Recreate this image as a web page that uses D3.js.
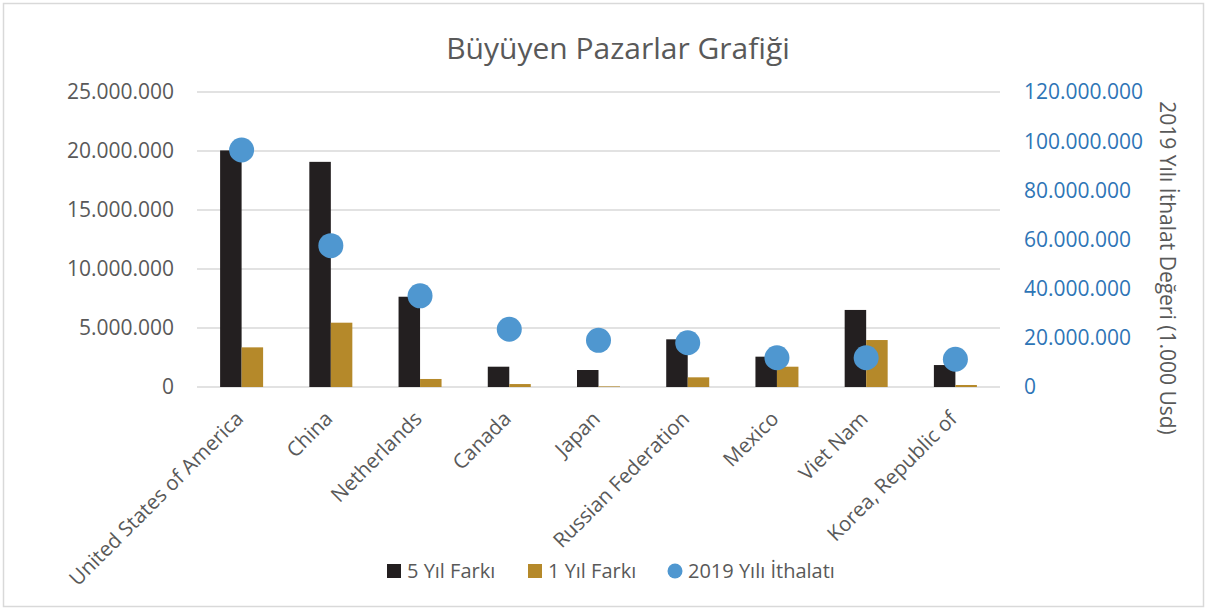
<!DOCTYPE html>
<html>
<head>
<meta charset="utf-8">
<script src="https://cdn.jsdelivr.net/npm/d3@7"></script>
<style>
  body { margin: 0; background: #fff; }
  text { font-family: "Open Sans", Lato, sans-serif; }
</style>
</head>
<body>
<svg width="1208" height="609"></svg>
<script>
const width = 1208;
const height = 609;

const countries = ["United States of America", "China", "Netherlands", "Canada", "Japan",
  "Russian Federation", "Mexico", "Viet Nam", "Korea, Republic of"];
const fiveYear = [20050000, 19080000, 7650000, 1720000, 1440000, 4040000, 2570000, 6530000, 1860000];
const oneYear = [3360000, 5450000, 680000, 250000, 50000, 820000, 1720000, 3980000, 170000];
const imports2019 = [96400000, 57500000, 37100000, 23500000, 19000000, 18000000, 11900000, 11900000, 11300000];
const leftTicks = [0, 5000000, 10000000, 15000000, 20000000, 25000000];
const rightTicks = [0, 20000000, 40000000, 60000000, 80000000, 100000000, 120000000];

const colors = { five: "#231f20", one: "#b5892a", dot: "#4f97d0" };
const grey = "#595959";

const margin = { top: 92, left: 197, right: 1000, bottom: 387 };

const svg = d3.select("svg");

// chart border
svg.append("rect")
  .attr("x", 3.5).attr("y", 3.5)
  .attr("width", width - 8).attr("height", height - 6)
  .attr("fill", "none").attr("stroke", "#d9d9d9").attr("stroke-width", 1.5);

const x = d3.scaleBand().domain(countries).range([margin.left, margin.right]);
const yLeft = d3.scaleLinear().domain([0, 25000000]).range([margin.bottom, margin.top]);
const yRight = d3.scaleLinear().domain([0, 120000000]).range([margin.bottom, margin.top]);

const fmt = v => d3.format(",")(v).replace(/,/g, ".");

// gridlines
svg.append("g").selectAll("line")
  .data(leftTicks)
  .join("line")
  .attr("x1", margin.left).attr("x2", margin.right)
  .attr("y1", d => yLeft(d)).attr("y2", d => yLeft(d))
  .attr("stroke", "#d9d9d9").attr("stroke-width", 1.5);

// left axis labels
svg.append("g").selectAll("text")
  .data(leftTicks)
  .join("text")
  .attr("x", 174).attr("y", d => yLeft(d))
  .attr("dy", "0.35em")
  .attr("text-anchor", "end")
  .attr("fill", grey)
  .style("font-size", "21px")
  .text(d => fmt(d));

// right axis labels
svg.append("g").selectAll("text")
  .data(rightTicks)
  .join("text")
  .attr("x", 1024).attr("y", d => yRight(d))
  .attr("dy", "0.35em")
  .attr("fill", "#2e75b6")
  .style("font-size", "21px")
  .text(d => fmt(d));

// right axis title
svg.append("text")
  .attr("transform", "translate(1160,268) rotate(90)")
  .attr("text-anchor", "middle")
  .attr("fill", grey)
  .style("font-size", "21px")
  .text("2019 Yılı İthalat Değeri (1.000 Usd)");

// bars
const barW = 21.5;
const bars = svg.append("g");
bars.selectAll("rect.five")
  .data(countries)
  .join("rect")
  .attr("class", "five")
  .attr("x", d => x(d) + x.bandwidth() / 2 - barW)
  .attr("width", barW)
  .attr("y", (d, i) => yLeft(fiveYear[i]))
  .attr("height", (d, i) => yLeft(0) - yLeft(fiveYear[i]))
  .attr("fill", colors.five);
bars.selectAll("rect.one")
  .data(countries)
  .join("rect")
  .attr("class", "one")
  .attr("x", d => x(d) + x.bandwidth() / 2)
  .attr("width", barW)
  .attr("y", (d, i) => yLeft(oneYear[i]))
  .attr("height", (d, i) => yLeft(0) - yLeft(oneYear[i]))
  .attr("fill", colors.one);

// dots
svg.append("g").selectAll("circle")
  .data(countries)
  .join("circle")
  .attr("cx", d => x(d) + x.bandwidth() / 2)
  .attr("cy", (d, i) => yRight(imports2019[i]))
  .attr("r", 12.5)
  .attr("fill", colors.dot);

// category labels
svg.append("g").selectAll("text")
  .data(countries)
  .join("text")
  .attr("transform", d => `translate(${x(d) + x.bandwidth() / 2 + 3},${420}) rotate(-45)`)
  .attr("text-anchor", "end")
  .attr("fill", grey)
  .style("font-size", "20.5px")
  .text(d => d);

// title
svg.append("text")
  .attr("x", 618).attr("y", 59)
  .attr("text-anchor", "middle")
  .attr("fill", grey)
  .style("font-size", "30px")
  .text("Büyüyen Pazarlar Grafiği");

// legend
const legend = svg.append("g");
const legendItems = [
  { label: "5 Yıl Farkı", color: colors.five, x: 387, shape: "rect" },
  { label: "1 Yıl Farkı", color: colors.one, x: 528, shape: "rect" },
  { label: "2019 Yılı İthalatı", color: colors.dot, x: 668, shape: "circle" }
];
legendItems.forEach(it => {
  if (it.shape === "rect") {
    legend.append("rect").attr("x", it.x).attr("y", 564).attr("width", 14).attr("height", 14).attr("fill", it.color);
  } else {
    legend.append("circle").attr("cx", it.x + 7).attr("cy", 571).attr("r", 7.5).attr("fill", it.color);
  }
  legend.append("text")
    .attr("x", it.x + 20).attr("y", 571)
    .attr("dy", "0.35em")
    .attr("fill", grey)
    .style("font-size", "20px")
    .text(it.label);
});
</script>
</body>
</html>
